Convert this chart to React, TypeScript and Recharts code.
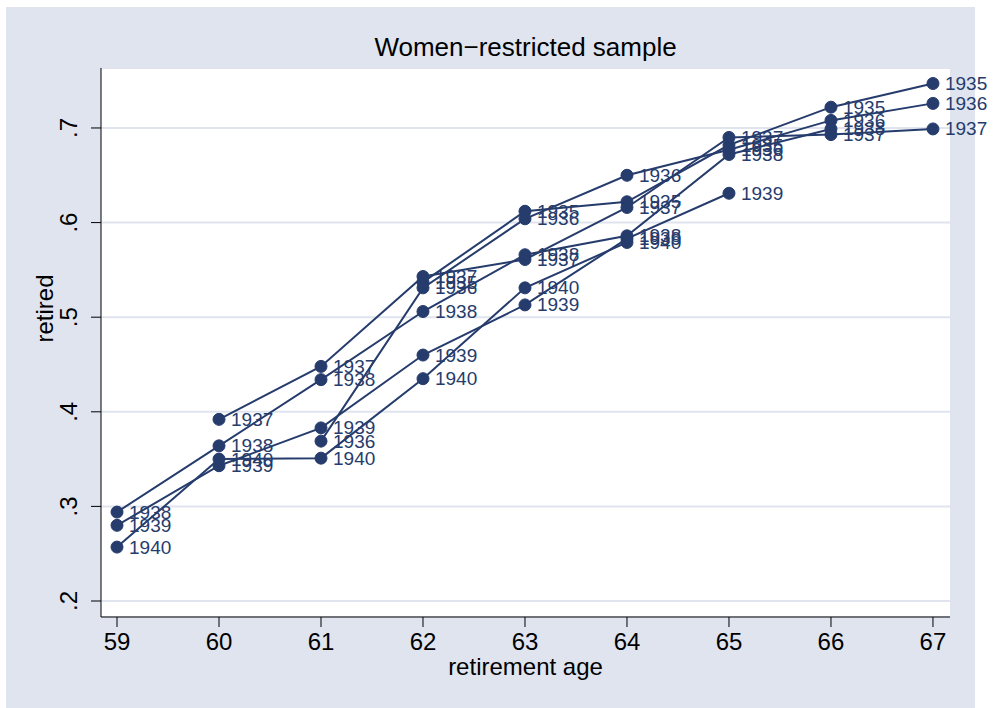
import { LineChart, Line, XAxis, YAxis, CartesianGrid, LabelList } from 'recharts'

// share retired by retirement age, one line per birth cohort
const ages = [59, 60, 61, 62, 63, 64, 65, 66, 67]
const yTicks = [0.2, 0.3, 0.4, 0.5, 0.6, 0.7]

const ages1935 = [62, 63, 64, 65, 66, 67]
const retired1935 = [0.537, 0.612, 0.622, 0.682, 0.722, 0.747]

const ages1936 = [61, 62, 63, 64, 65, 66, 67]
const retired1936 = [0.369, 0.531, 0.604, 0.65, 0.677, 0.708, 0.726]

const ages1937 = [60, 61, 62, 63, 64, 65, 66, 67]
const retired1937 = [0.392, 0.448, 0.543, 0.561, 0.616, 0.69, 0.693, 0.699]

const ages1938 = [59, 60, 61, 62, 63, 64, 65, 66]
const retired1938 = [0.294, 0.364, 0.434, 0.506, 0.566, 0.586, 0.672, 0.699]

const ages1939 = [59, 60, 61, 62, 63, 64, 65]
const retired1939 = [0.28, 0.343, 0.383, 0.46, 0.513, 0.583, 0.631]

const ages1940 = [59, 60, 61, 62, 63, 64]
const retired1940 = [0.257, 0.35, 0.351, 0.435, 0.531, 0.579]

const cohorts = [
  { name: '1935', ages: ages1935, values: retired1935 },
  { name: '1936', ages: ages1936, values: retired1936 },
  { name: '1937', ages: ages1937, values: retired1937 },
  { name: '1938', ages: ages1938, values: retired1938 },
  { name: '1939', ages: ages1939, values: retired1939 },
  { name: '1940', ages: ages1940, values: retired1940 },
]

const NAVY = '#263c6c'
const FONT = '"Liberation Sans", Arial, Helvetica, sans-serif'

function YTick(props: any) {
  const { x, y, payload } = props
  const cx = x - 20
  const txt = payload.value.toFixed(1).replace(/^0/, '')
  return (
    <text
      x={cx}
      y={y}
      transform={`rotate(-90 ${cx} ${y})`}
      textAnchor="middle"
      dominantBaseline="central"
      fontSize={24}
      fill="#000"
      fontFamily={FONT}
    >
      {txt}
    </text>
  )
}

function XTick(props: any) {
  const { x, y, payload } = props
  return (
    <text x={x} y={y + 21} textAnchor="middle" fontSize={24} fill="#000" fontFamily={FONT}>
      {payload.value}
    </text>
  )
}

function CohortLabel(props: any) {
  const { x, y, value } = props
  return (
    <text x={x + 12} y={y} dominantBaseline="central" fontSize={19} fill={NAVY} fontFamily={FONT}>
      {value}
    </text>
  )
}

export default function App() {
  return (
    <div style={{ position: 'absolute', left: 0, top: 0, width: 994, height: 708, fontFamily: FONT }}>
      <div style={{ position: 'absolute', left: 6, top: 7, width: 969, height: 701, background: '#dfe4ef' }} />
      <div
        style={{
          position: 'absolute',
          left: 101,
          width: 849,
          top: 32,
          textAlign: 'center',
          fontSize: 26,
          lineHeight: '30px',
          color: '#000',
        }}
      >
        Women−restricted sample
      </div>
      <div style={{ position: 'absolute', left: 0, top: 0 }}>
        <LineChart width={994} height={708} margin={{ top: 68, right: 44, bottom: 31, left: 41 }}>
          <CartesianGrid horizontal vertical={false} stroke="#dfe4ef" strokeWidth={2} fill="#ffffff" />
          <XAxis
            type="number"
            dataKey="age"
            domain={[58.843, 67.167]}
            ticks={ages}
            allowDataOverflow
            height={60}
            tickSize={10}
            tick={<XTick />}
            axisLine={{ stroke: '#000' }}
            tickLine={{ stroke: '#000' }}
            label={{ value: 'retirement age', position: 'insideTop', offset: 41, fontSize: 24, fill: '#000', fontFamily: FONT }}
          />
          <YAxis
            type="number"
            domain={[0.1831, 0.7634]}
            ticks={yTicks}
            allowDataOverflow
            width={60}
            tickSize={10}
            tick={<YTick />}
            axisLine={{ stroke: '#000' }}
            tickLine={{ stroke: '#000' }}
            label={{ value: 'retired', angle: -90, position: 'insideLeft', offset: 3, fontSize: 24, fill: '#000', fontFamily: FONT }}
          />
          {cohorts.map((c) => (
            <Line
              key={c.name}
              data={c.ages.map((a, i) => ({ age: a, retired: c.values[i], cohort: c.name }))}
              dataKey="retired"
              type="linear"
              stroke={NAVY}
              strokeWidth={2}
              dot={{ r: 6, fill: NAVY, stroke: NAVY, strokeWidth: 1 }}
              isAnimationActive={false}
            >
              <LabelList dataKey="cohort" content={<CohortLabel />} />
            </Line>
          ))}
        </LineChart>
      </div>
    </div>
  )
}
